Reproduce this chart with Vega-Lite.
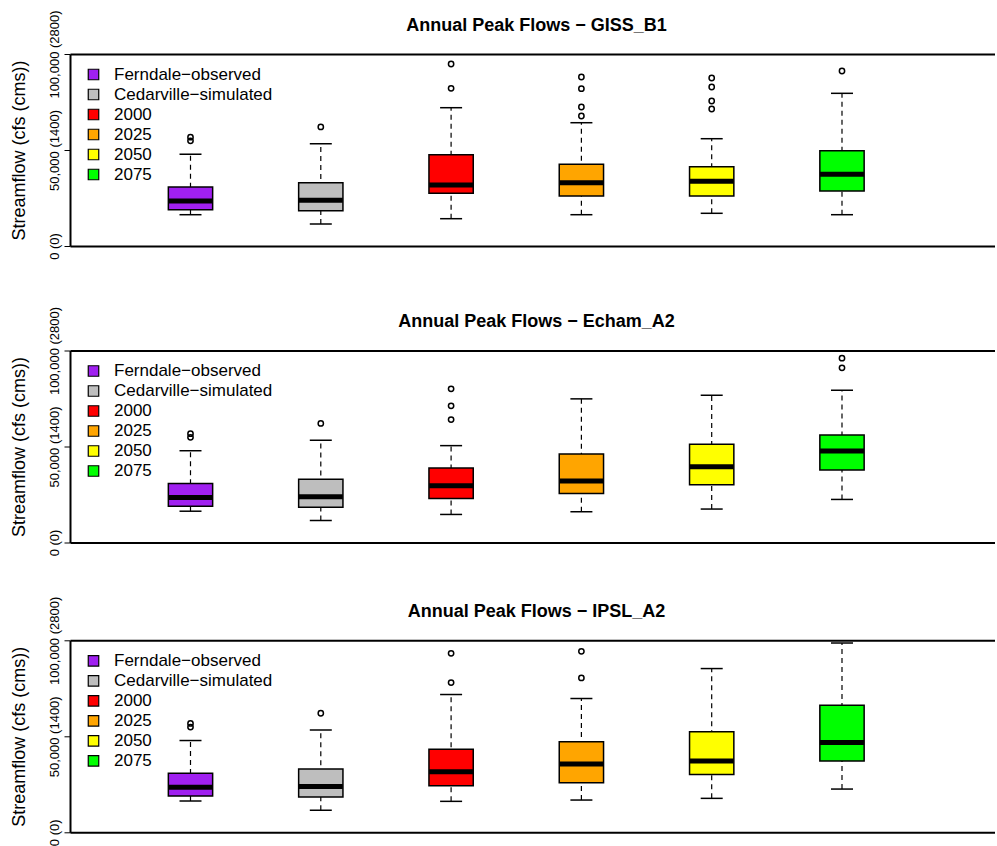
{
  "$schema": "https://vega.github.io/schema/vega-lite/v6.json",
  "background": "white",
  "padding": {"left": 10, "top": 9, "right": 0, "bottom": 0},
  "datasets": {
    "stats": [
      {"panel": "GISS_B1", "cat": "Ferndale−observed", "lower": 16300, "q1": 18900, "median": 23400, "q3": 30700, "upper": 47800},
      {"panel": "GISS_B1", "cat": "Cedarville−simulated", "lower": 11500, "q1": 18400, "median": 23800, "q3": 33000, "upper": 53300},
      {"panel": "GISS_B1", "cat": "2000", "lower": 14220, "q1": 27450, "median": 31770, "q3": 47550, "upper": 72030},
      {"panel": "GISS_B1", "cat": "2025", "lower": 16300, "q1": 26040, "median": 32970, "q3": 42550, "upper": 64210},
      {"panel": "GISS_B1", "cat": "2050", "lower": 17030, "q1": 26040, "median": 33700, "q3": 41300, "upper": 55880},
      {"panel": "GISS_B1", "cat": "2075", "lower": 16300, "q1": 28640, "median": 37340, "q3": 49630, "upper": 79520},
      {"panel": "Echam_A2", "cat": "Ferndale−observed", "lower": 16300, "q1": 18900, "median": 23400, "q3": 30700, "upper": 47800},
      {"panel": "Echam_A2", "cat": "Cedarville−simulated", "lower": 11500, "q1": 18400, "median": 23800, "q3": 33000, "upper": 53300},
      {"panel": "Echam_A2", "cat": "2000", "lower": 14610, "q1": 22950, "median": 29580, "q3": 38810, "upper": 50450},
      {"panel": "Echam_A2", "cat": "2025", "lower": 16020, "q1": 25560, "median": 32030, "q3": 46120, "upper": 74810},
      {"panel": "Echam_A2", "cat": "2050", "lower": 17420, "q1": 30100, "median": 39490, "q3": 51130, "upper": 76690},
      {"panel": "Echam_A2", "cat": "2075", "lower": 22430, "q1": 37770, "median": 47680, "q3": 56030, "upper": 79300},
      {"panel": "IPSL_A2", "cat": "Ferndale−observed", "lower": 16300, "q1": 18900, "median": 23400, "q3": 30700, "upper": 47800},
      {"panel": "IPSL_A2", "cat": "Cedarville−simulated", "lower": 11500, "q1": 18400, "median": 23800, "q3": 33000, "upper": 53300},
      {"panel": "IPSL_A2", "cat": "2000", "lower": 16120, "q1": 24230, "median": 31510, "q3": 43320, "upper": 71760},
      {"panel": "IPSL_A2", "cat": "2025", "lower": 16800, "q1": 25790, "median": 35520, "q3": 47110, "upper": 69680},
      {"panel": "IPSL_A2", "cat": "2050", "lower": 17680, "q1": 30160, "median": 37080, "q3": 52310, "upper": 85280},
      {"panel": "IPSL_A2", "cat": "2075", "lower": 22520, "q1": 37080, "median": 46800, "q3": 66200, "upper": 98590}
    ],
    "outliers": [
      {"panel": "GISS_B1", "cat": "Ferndale−observed", "value": 56700},
      {"panel": "GISS_B1", "cat": "Ferndale−observed", "value": 54800},
      {"panel": "GISS_B1", "cat": "Cedarville−simulated", "value": 62000},
      {"panel": "GISS_B1", "cat": "2000", "value": 94790},
      {"panel": "GISS_B1", "cat": "2000", "value": 82130},
      {"panel": "GISS_B1", "cat": "2025", "value": 88020},
      {"panel": "GISS_B1", "cat": "2025", "value": 81920},
      {"panel": "GISS_B1", "cat": "2025", "value": 72390},
      {"panel": "GISS_B1", "cat": "2025", "value": 67700},
      {"panel": "GISS_B1", "cat": "2050", "value": 87490},
      {"panel": "GISS_B1", "cat": "2050", "value": 82810},
      {"panel": "GISS_B1", "cat": "2050", "value": 75520},
      {"panel": "GISS_B1", "cat": "2050", "value": 71350},
      {"panel": "GISS_B1", "cat": "2075", "value": 91140},
      {"panel": "Echam_A2", "cat": "Ferndale−observed", "value": 56700},
      {"panel": "Echam_A2", "cat": "Ferndale−observed", "value": 54800},
      {"panel": "Echam_A2", "cat": "Cedarville−simulated", "value": 62000},
      {"panel": "Echam_A2", "cat": "2000", "value": 80030},
      {"panel": "Echam_A2", "cat": "2000", "value": 71160},
      {"panel": "Echam_A2", "cat": "2000", "value": 64010},
      {"panel": "Echam_A2", "cat": "2075", "value": 95990},
      {"panel": "Echam_A2", "cat": "2075", "value": 90980},
      {"panel": "IPSL_A2", "cat": "Ferndale−observed", "value": 56700},
      {"panel": "IPSL_A2", "cat": "Ferndale−observed", "value": 54800},
      {"panel": "IPSL_A2", "cat": "Cedarville−simulated", "value": 62000},
      {"panel": "IPSL_A2", "cat": "2000", "value": 93240},
      {"panel": "IPSL_A2", "cat": "2000", "value": 78000},
      {"panel": "IPSL_A2", "cat": "2025", "value": 94280},
      {"panel": "IPSL_A2", "cat": "2025", "value": 80390}
    ]
  },
  "vconcat": [
    {
      "title": {"text": "Annual Peak Flows − GISS_B1"},
      "width": 925, "height": 192,
      "encoding": {"x": {"field": "cat", "type": "nominal", "scale": {"type": "band", "domain": ["Ferndale−observed", "Cedarville−simulated", "2000", "2025", "2050", "2075"], "paddingInner": 0, "paddingOuter": 0.5495, "align": 0.3865}, "axis": null}},
      "layer": [
        {"data": {"name": "stats"}, "transform": [{"filter": "datum.panel == 'GISS_B1'"}],
         "mark": {"type": "rule", "strokeDash": [5, 4], "strokeWidth": 1.2, "color": "black"},
         "encoding": {
           "y": {"field": "lower", "type": "quantitative", "scale": {"domain": [0, 100000], "nice": false, "zero": false},
                 "axis": {"title": "Streamflow (cfs (cms))", "values": [0, 50000, 100000], "labelExpr": "datum.value == 0 ? '0 (0)' : datum.value == 50000 ? '50,000 (1400)' : '100,000 (2800)'", "grid": true, "gridColor": {"condition": {"test": "datum.value == 50000", "value": "transparent"}, "value": "black"}}},
           "y2": {"field": "upper"}
         }},
        {"data": {"name": "stats"}, "transform": [{"filter": "datum.panel == 'GISS_B1'"}],
         "mark": {"type": "tick", "size": 22, "thickness": 1.5, "color": "black", "opacity": 1},
         "encoding": {"y": {"field": "lower", "type": "quantitative", "title": "Streamflow (cfs (cms))"}}},
        {"data": {"name": "stats"}, "transform": [{"filter": "datum.panel == 'GISS_B1'"}],
         "mark": {"type": "tick", "size": 22, "thickness": 1.5, "color": "black", "opacity": 1},
         "encoding": {"y": {"field": "upper", "type": "quantitative", "title": "Streamflow (cfs (cms))"}}},
        {"data": {"name": "stats"}, "transform": [{"filter": "datum.panel == 'GISS_B1'"}],
         "mark": {"type": "bar", "width": {"band": 0.34}, "stroke": "black", "strokeWidth": 1.5},
         "encoding": {"y": {"field": "q1", "type": "quantitative", "title": "Streamflow (cfs (cms))"}, "y2": {"field": "q3"},
           "fill": {"field": "cat", "type": "nominal", "scale": {"domain": ["Ferndale−observed", "Cedarville−simulated", "2000", "2025", "2050", "2075"], "range": ["#A020F0", "#BEBEBE", "#FF0000", "#FFA500", "#FFFF00", "#00FF00"]}, "legend": {"title": null, "orient": "none", "legendX": 15, "legendY": 12}}}},
        {"data": {"name": "stats"}, "transform": [{"filter": "datum.panel == 'GISS_B1'"}],
         "mark": {"type": "tick", "size": 44, "thickness": 5, "color": "black", "opacity": 1},
         "encoding": {"y": {"field": "median", "type": "quantitative", "title": "Streamflow (cfs (cms))"}}},
        {"data": {"name": "outliers"}, "transform": [{"filter": "datum.panel == 'GISS_B1'"}],
         "mark": {"type": "point", "shape": "circle", "filled": false, "color": "black", "strokeWidth": 1.5, "size": 28, "opacity": 1},
         "encoding": {"y": {"field": "value", "type": "quantitative", "title": "Streamflow (cfs (cms))"}}}
      ]
    },
    {
      "vconcat": [
        {
          "title": {"text": "Annual Peak Flows − Echam_A2"},
          "width": 925, "height": 192,
          "encoding": {"x": {"field": "cat", "type": "nominal", "scale": {"type": "band", "domain": ["Ferndale−observed", "Cedarville−simulated", "2000", "2025", "2050", "2075"], "paddingInner": 0, "paddingOuter": 0.5495, "align": 0.3865}, "axis": null}},
          "layer": [
            {"data": {"name": "stats"}, "transform": [{"filter": "datum.panel == 'Echam_A2'"}],
             "mark": {"type": "rule", "strokeDash": [5, 4], "strokeWidth": 1.2, "color": "black"},
             "encoding": {
               "y": {"field": "lower", "type": "quantitative", "scale": {"domain": [0, 100000], "nice": false, "zero": false},
                     "axis": {"title": "Streamflow (cfs (cms))", "values": [0, 50000, 100000], "labelExpr": "datum.value == 0 ? '0 (0)' : datum.value == 50000 ? '50,000 (1400)' : '100,000 (2800)'", "grid": true, "gridColor": {"condition": {"test": "datum.value == 50000", "value": "transparent"}, "value": "black"}}},
               "y2": {"field": "upper"}
             }},
            {"data": {"name": "stats"}, "transform": [{"filter": "datum.panel == 'Echam_A2'"}],
             "mark": {"type": "tick", "size": 22, "thickness": 1.5, "color": "black", "opacity": 1},
             "encoding": {"y": {"field": "lower", "type": "quantitative", "title": "Streamflow (cfs (cms))"}}},
            {"data": {"name": "stats"}, "transform": [{"filter": "datum.panel == 'Echam_A2'"}],
             "mark": {"type": "tick", "size": 22, "thickness": 1.5, "color": "black", "opacity": 1},
             "encoding": {"y": {"field": "upper", "type": "quantitative", "title": "Streamflow (cfs (cms))"}}},
            {"data": {"name": "stats"}, "transform": [{"filter": "datum.panel == 'Echam_A2'"}],
             "mark": {"type": "bar", "width": {"band": 0.34}, "stroke": "black", "strokeWidth": 1.5},
             "encoding": {"y": {"field": "q1", "type": "quantitative", "title": "Streamflow (cfs (cms))"}, "y2": {"field": "q3"},
               "fill": {"field": "cat", "type": "nominal", "scale": {"domain": ["Ferndale−observed", "Cedarville−simulated", "2000", "2025", "2050", "2075"], "range": ["#A020F0", "#BEBEBE", "#FF0000", "#FFA500", "#FFFF00", "#00FF00"]}, "legend": {"title": null, "orient": "none", "legendX": 15, "legendY": 12}}}},
            {"data": {"name": "stats"}, "transform": [{"filter": "datum.panel == 'Echam_A2'"}],
             "mark": {"type": "tick", "size": 44, "thickness": 5, "color": "black", "opacity": 1},
             "encoding": {"y": {"field": "median", "type": "quantitative", "title": "Streamflow (cfs (cms))"}}},
            {"data": {"name": "outliers"}, "transform": [{"filter": "datum.panel == 'Echam_A2'"}],
             "mark": {"type": "point", "shape": "circle", "filled": false, "color": "black", "strokeWidth": 1.5, "size": 28, "opacity": 1},
             "encoding": {"y": {"field": "value", "type": "quantitative", "title": "Streamflow (cfs (cms))"}}}
          ]
        },
        {
          "title": {"text": "Annual Peak Flows − IPSL_A2"},
          "width": 925, "height": 192,
          "encoding": {"x": {"field": "cat", "type": "nominal", "scale": {"type": "band", "domain": ["Ferndale−observed", "Cedarville−simulated", "2000", "2025", "2050", "2075"], "paddingInner": 0, "paddingOuter": 0.5495, "align": 0.3865}, "axis": null}},
          "layer": [
            {"data": {"name": "stats"}, "transform": [{"filter": "datum.panel == 'IPSL_A2'"}],
             "mark": {"type": "rule", "strokeDash": [5, 4], "strokeWidth": 1.2, "color": "black"},
             "encoding": {
               "y": {"field": "lower", "type": "quantitative", "scale": {"domain": [0, 100000], "nice": false, "zero": false},
                     "axis": {"title": "Streamflow (cfs (cms))", "values": [0, 50000, 100000], "labelExpr": "datum.value == 0 ? '0 (0)' : datum.value == 50000 ? '50,000 (1400)' : '100,000 (2800)'", "grid": true, "gridColor": {"condition": {"test": "datum.value == 50000", "value": "transparent"}, "value": "black"}}},
               "y2": {"field": "upper"}
             }},
            {"data": {"name": "stats"}, "transform": [{"filter": "datum.panel == 'IPSL_A2'"}],
             "mark": {"type": "tick", "size": 22, "thickness": 1.5, "color": "black", "opacity": 1},
             "encoding": {"y": {"field": "lower", "type": "quantitative", "title": "Streamflow (cfs (cms))"}}},
            {"data": {"name": "stats"}, "transform": [{"filter": "datum.panel == 'IPSL_A2'"}],
             "mark": {"type": "tick", "size": 22, "thickness": 1.5, "color": "black", "opacity": 1},
             "encoding": {"y": {"field": "upper", "type": "quantitative", "title": "Streamflow (cfs (cms))"}}},
            {"data": {"name": "stats"}, "transform": [{"filter": "datum.panel == 'IPSL_A2'"}],
             "mark": {"type": "bar", "width": {"band": 0.34}, "stroke": "black", "strokeWidth": 1.5},
             "encoding": {"y": {"field": "q1", "type": "quantitative", "title": "Streamflow (cfs (cms))"}, "y2": {"field": "q3"},
               "fill": {"field": "cat", "type": "nominal", "scale": {"domain": ["Ferndale−observed", "Cedarville−simulated", "2000", "2025", "2050", "2075"], "range": ["#A020F0", "#BEBEBE", "#FF0000", "#FFA500", "#FFFF00", "#00FF00"]}, "legend": {"title": null, "orient": "none", "legendX": 15, "legendY": 12}}}},
            {"data": {"name": "stats"}, "transform": [{"filter": "datum.panel == 'IPSL_A2'"}],
             "mark": {"type": "tick", "size": 44, "thickness": 5, "color": "black", "opacity": 1},
             "encoding": {"y": {"field": "median", "type": "quantitative", "title": "Streamflow (cfs (cms))"}}},
            {"data": {"name": "outliers"}, "transform": [{"filter": "datum.panel == 'IPSL_A2'"}],
             "mark": {"type": "point", "shape": "circle", "filled": false, "color": "black", "strokeWidth": 1.5, "size": 28, "opacity": 1},
             "encoding": {"y": {"field": "value", "type": "quantitative", "title": "Streamflow (cfs (cms))"}}}
          ]
        }
      ],
      "spacing": 38.8,
      "resolve": {"scale": {"fill": "independent", "x": "independent", "y": "independent"}, "legend": {"fill": "independent"}, "axis": {"y": "independent"}}
    }
  ],
  "spacing": 45.5,
  "resolve": {"scale": {"fill": "independent", "x": "independent", "y": "independent"}, "legend": {"fill": "independent"}, "axis": {"y": "independent"}},
  "config": {
    "font": "Liberation Sans",
    "view": {"stroke": null},
    "title": {"fontSize": 18, "fontWeight": "bold", "color": "black", "offset": -25, "dx": 4, "font": "Liberation Sans"},
    "axis": {"domainColor": "black", "domainWidth": 2, "tickColor": "black", "tickWidth": 1, "tickSize": 6, "labelColor": "black", "labelFontSize": 13, "labelAngle": -90, "labelAlign": "center", "labelBaseline": "bottom", "labelPadding": 3, "titleColor": "black", "titleFontSize": 18, "titleFontWeight": "normal", "titlePadding": 20, "gridColor": "black", "gridWidth": 2, "labelFont": "Liberation Sans", "titleFont": "Liberation Sans"},
    "legend": {"symbolType": "square", "symbolSize": 110, "symbolStrokeColor": "black", "symbolStrokeWidth": 1.2, "labelFontSize": 17, "labelColor": "black", "labelFont": "Liberation Sans", "labelOffset": 12, "rowPadding": 2, "padding": 0, "labelLimit": 400}
  }
}
